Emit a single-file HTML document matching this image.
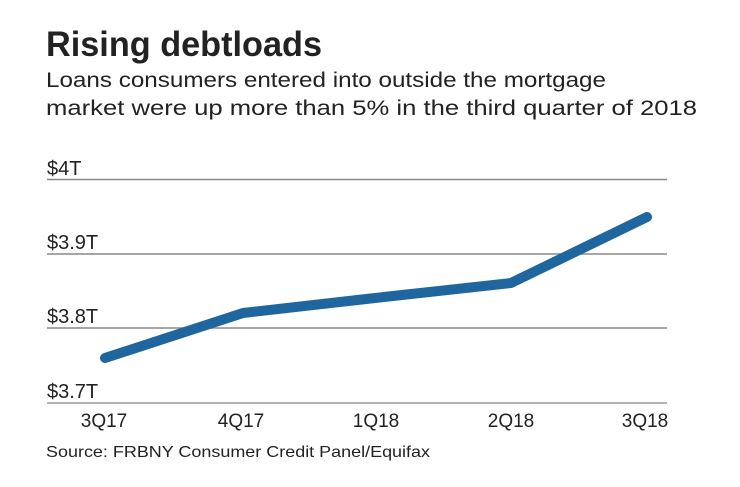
<!DOCTYPE html>
<html><head><style>
body{margin:0;background:#fff;}
svg text{font-family:"Liberation Sans",sans-serif;fill:#222;}
</style></head><body>
<svg width="740" height="482" viewBox="0 0 740 482" xmlns="http://www.w3.org/2000/svg">
<rect width="740" height="482" fill="#fff"/>
<text x="46" y="56" font-size="35" font-weight="bold" fill="#111" textLength="276" lengthAdjust="spacingAndGlyphs">Rising debtloads</text>
<text x="46" y="87" font-size="21" textLength="560" lengthAdjust="spacingAndGlyphs">Loans consumers entered into outside the mortgage</text>
<text x="46" y="115" font-size="21" textLength="651" lengthAdjust="spacingAndGlyphs">market were up more than 5% in the third quarter of 2018</text>
<g stroke="#888" stroke-width="1.5">
<line x1="47" y1="179.5" x2="667" y2="179.5"/>
<line x1="47" y1="254" x2="667" y2="254"/>
<line x1="47" y1="328" x2="667" y2="328"/>
<line x1="47" y1="403" x2="667" y2="403" stroke="#999"/>
</g>
<g font-size="20">
<text x="47" y="175">$4T</text>
<text x="47" y="249">$3.9T</text>
<text x="47" y="323">$3.8T</text>
<text x="47" y="398">$3.7T</text>
</g>
<g font-size="19" text-anchor="middle">
<text x="104" y="427">3Q17</text>
<text x="241" y="427">4Q17</text>
<text x="376" y="427">1Q18</text>
<text x="511" y="427">2Q18</text>
<text x="645" y="427">3Q18</text>
</g>
<polyline points="105,358 243,313 375,298 511,283 647,217" fill="none" stroke="#1f669e" stroke-width="10" stroke-linecap="round" stroke-linejoin="round"/>
<text x="46" y="457" font-size="16" textLength="384" lengthAdjust="spacingAndGlyphs">Source: FRBNY Consumer Credit Panel/Equifax</text>
</svg>
</body></html>
